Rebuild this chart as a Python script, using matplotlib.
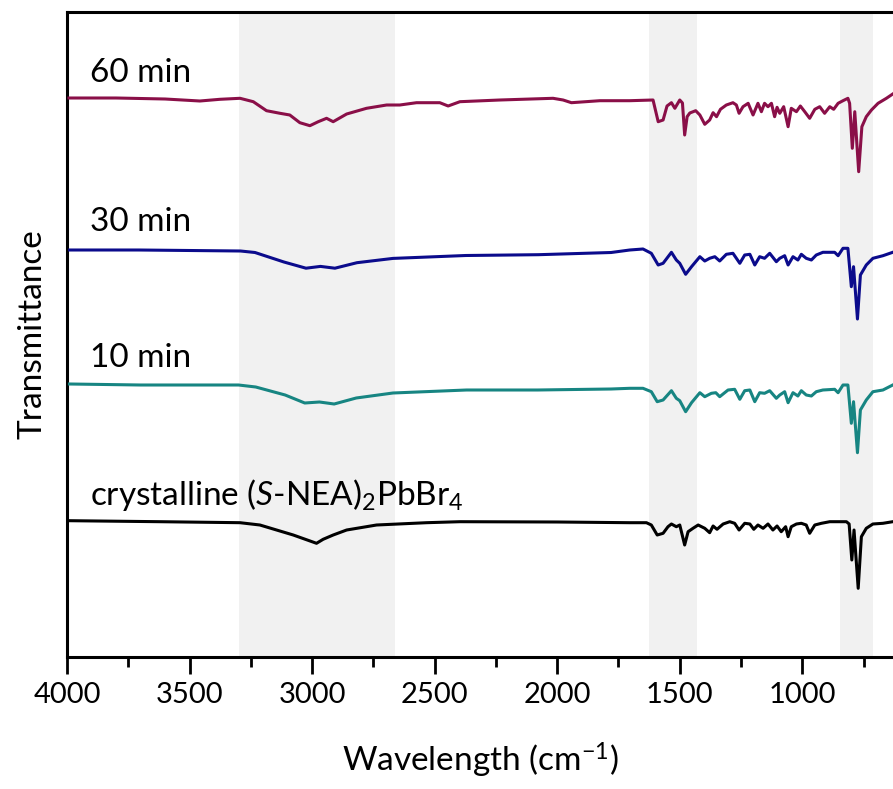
import matplotlib
matplotlib.use("Agg")
import matplotlib.pyplot as plt

plt.rcParams['font.family'] = ['Lato', 'DejaVu Sans']
plt.rcParams['mathtext.fontset'] = 'custom'
plt.rcParams['mathtext.rm'] = 'Lato'
plt.rcParams['mathtext.it'] = 'Lato:italic'

# ---- data (wavenumber in cm-1, offset transmittance in arbitrary units) ----
wn_60 = [3992, 3800, 3600, 3458, 3376, 3294, 3240, 3186, 3131, 3091, 3050, 3009, 2975, 2941, 2914,
         2859, 2778, 2696, 2642, 2574, 2479, 2445, 2397, 2234, 2017, 1976, 1942, 1826, 1704, 1609,
         1588, 1568, 1552, 1534, 1520, 1500, 1489, 1480, 1470, 1459, 1435, 1418, 1398, 1378, 1364,
         1350, 1334, 1310, 1283, 1269, 1258, 1242, 1221, 1201, 1181, 1167, 1154, 1140, 1126, 1113,
         1103, 1092, 1076, 1058, 1045, 1024, 1008, 990, 970, 949, 929, 909, 888, 872, 854, 834,
         814, 807, 796, 786, 770, 757, 739, 718, 691, 657, 631]
t_60 = [559, 559, 558, 556, 557.7, 558.7, 555.3, 546.3, 543.7, 542, 534.3, 531.3, 535.3, 538.7, 535.3,
        543, 548.7, 552, 552, 554.3, 554.3, 551, 555.3, 557, 558.7, 557, 554.3, 556.3, 556.3, 557,
        535.3, 537, 551, 554.3, 548.7, 557, 554, 522, 540.3, 544, 546.3, 542, 532.7, 537, 544.3,
        540.3, 547.7, 552, 554.3, 552, 543.7, 550.3, 553.7, 542, 553.7, 545.3, 553.7, 550.3, 553.7, 540.3,
        549.7, 543.7, 550.3, 530.3, 548.7, 545.3, 551, 545.3, 538.7, 547.7, 550.3, 543.7, 550.3, 547.7, 553.7, 556.3,
        558.7, 553.7, 508.7, 545.3, 485.3, 530.3, 540.3, 547, 553.7, 558.7, 563]

wn_30 = [3989, 3708, 3292, 3233, 3115, 3025, 2966, 2907, 2817, 2670, 2373, 2077, 1780, 1704, 1650,
         1616, 1588, 1568, 1534, 1514, 1500, 1476, 1452, 1418, 1398, 1378, 1357, 1337, 1310, 1283,
         1255, 1235, 1214, 1194, 1174, 1154, 1133, 1106, 1092, 1072, 1058, 1038, 1018, 1004, 984,
         963, 943, 916, 868, 854, 834, 814, 800, 791, 775, 763, 739, 712, 671, 631]
t_30 = [407, 407, 406, 404.5, 395, 388.8, 390.6, 388.8, 394.3, 398.6, 401.5, 402.3, 404.5, 407, 408,
        403.7, 392, 393.7, 404.7, 397, 393.7, 382.7, 390.3, 400.3, 396, 398.7, 400.3, 396, 402.7, 403.7,
        393.7, 402, 402.7, 392, 400.3, 398.7, 403.7, 395.3, 398.7, 401.3, 392, 400.3, 397, 402.7, 398.7,
        397, 402, 404.7, 404.7, 401.3, 408.7, 408.7, 370.3, 390.3, 338, 382, 392, 398.7, 401.3, 404.7]

wn_10 = [3990, 3700, 3300, 3230, 3110, 3030, 2970, 2910, 2820, 2670, 2370, 2080, 1780, 1704, 1650,
         1616, 1592, 1568, 1534, 1514, 1500, 1476, 1452, 1418, 1398, 1371, 1353, 1337, 1303, 1276,
         1255, 1235, 1214, 1194, 1174, 1154, 1133, 1106, 1092, 1072, 1058, 1038, 1018, 1004, 984,
         963, 943, 916, 868, 854, 834, 814, 800, 791, 775, 763, 739, 712, 671, 631]
t_10 = [273, 272, 272, 270, 262, 254, 255, 253, 259, 264, 267, 267, 268, 268.7, 268.7,
        265.3, 255.3, 257, 266.3, 258.7, 256.3, 245.3, 254.3, 264.3, 260.3, 263.7, 264.3, 260.3, 267, 267.7,
        257.7, 266.3, 267, 255.3, 264.3, 263.7, 266.3, 258.7, 262, 265.3, 254.3, 264.3, 261, 266.3, 262,
        261, 265.3, 267, 267.7, 264.3, 272, 272, 233.7, 255.3, 204.3, 247, 257, 265.3, 267, 272]

wn_cr = [3988, 3621, 3294, 3213, 3077, 2982, 2955, 2914, 2859, 2737, 2533, 2397, 2000, 1704, 1636,
         1616, 1592, 1568, 1548, 1534, 1514, 1500, 1480, 1466, 1446, 1425, 1398, 1378, 1364, 1348,
         1323, 1296, 1276, 1258, 1235, 1214, 1198, 1181, 1160, 1140, 1120, 1103, 1086, 1068, 1058,
         1045, 1024, 1004, 984, 970, 949, 922, 888, 854, 820, 809, 798, 789, 772, 759, 739, 712, 671, 631]
t_cr = [136.3, 135.3, 134.3, 132, 122, 113.7, 117.7, 122, 127, 132, 134.3, 135.3, 135, 134.3, 134.3,
        132, 122, 123.7, 130.3, 133, 130.3, 132, 112, 125.3, 128.7, 132, 128.7, 124.3, 131, 127.7,
        133, 135.3, 133.7, 127, 133.7, 133, 127.7, 132, 128.7, 133, 127, 131, 125.3, 130.3, 120.3,
        130.3, 133, 133.7, 132, 123.7, 132, 133.7, 135.3, 135.3, 135.3, 133, 97, 127, 68.7, 120.3, 128.7, 133, 133.7, 135.3]

labels = ["60 min", "30 min", "10 min", "crystalline ($\\mathit{S}$-NEA)$_2$PbBr$_4$"]
colors = ["#8a0f48", "#0b0b8c", "#178582", "#000000"]
label_y = [575, 426, 290, 152]

shade_bands = [(3300, 2660), (1626, 1431), (847, 713)]

# ---- figure ----
W, H = 893, 789
fig = plt.figure(figsize=(W / 100, H / 100), dpi=100)
ax = fig.add_axes([67 / W, 1 - 657 / H, 826 / W, 645 / H])

for a, b in shade_bands:
    ax.axvspan(a, b, color="#f1f1f1", lw=0, zorder=0)

series = [(wn_60, t_60), (wn_30, t_30), (wn_10, t_10), (wn_cr, t_cr)]
for (x, y), c, lab, ly in zip(series, colors, labels, label_y):
    ax.plot(x, y, color=c, lw=2.2, zorder=3, solid_joinstyle='round')
    ax.text(3906, ly, lab, fontsize=24, color="black", va="baseline", ha="left")

ax.set_xlim(4000, 630)
ax.set_ylim(0, 645)
ax.set_xticks([4000, 3500, 3000, 2500, 2000, 1500, 1000])
ax.set_xticks([3750, 3250, 2750, 2250, 1750, 1250, 750], minor=True)
ax.set_yticks([])
ax.tick_params(axis='x', which='major', direction='out', length=12, width=2, labelsize=21, pad=6)
ax.tick_params(axis='x', which='minor', direction='out', length=7, width=2)
for s in ['left', 'bottom', 'top']:
    ax.spines[s].set_linewidth(2.2)
ax.spines['right'].set_visible(False)

ax.set_xlabel("Wavelength (cm$^{-1}$)", fontsize=24, labelpad=24)
ax.set_ylabel("Transmittance", fontsize=24, labelpad=14)

fig.savefig("out.png", dpi=100)
